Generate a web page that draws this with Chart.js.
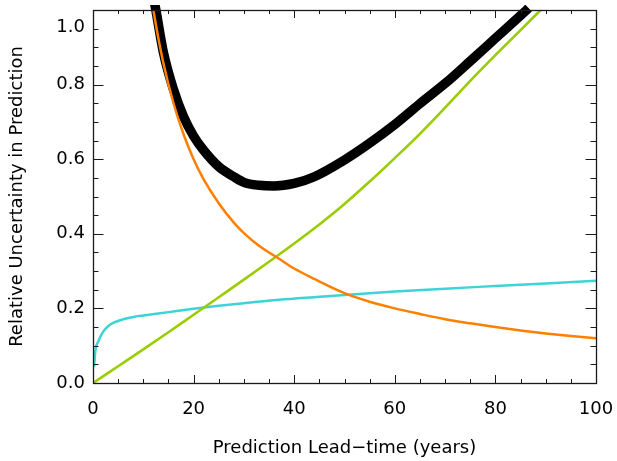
<!DOCTYPE html>
<html>
<head>
<meta charset="utf-8">
<script src="https://cdn.jsdelivr.net/npm/chart.js@4/dist/chart.umd.min.js"></script>
<style>
  html, body { margin: 0; padding: 0; background: #fff; }
  #wrap { width: 617px; height: 461px; }
</style>
</head>
<body>
<div id="wrap"><canvas id="c" width="617" height="461"></canvas></div>
<script>
// ---- data ----
const xTickLabels = ['0', '20', '40', '60', '80', '100'];
const yTickLabels = ['0.0', '0.2', '0.4', '0.6', '0.8', '1.0'];

const totalX = [11.8, 12.5, 14, 16, 18, 20, 22, 25, 28, 30, 33, 36, 40, 44, 50, 55, 60, 65, 70, 75, 80, 85, 86.6];
const totalY = [1.05, 1.0, 0.886, 0.787, 0.714, 0.662, 0.624, 0.58, 0.553, 0.538, 0.53, 0.528, 0.535, 0.553, 0.598, 0.643, 0.693, 0.749, 0.803, 0.863, 0.924, 0.985, 1.005];

const orangeX = [11, 12, 14, 16, 18, 20, 22, 25, 28, 30, 33, 37, 40, 44, 50, 55, 60, 65, 70, 75, 80, 85, 90, 95, 100];
const orangeY = [1.09, 1.0, 0.857, 0.75, 0.667, 0.6, 0.546, 0.482, 0.43, 0.402, 0.368, 0.333, 0.307, 0.279, 0.241, 0.218, 0.2, 0.185, 0.171, 0.16, 0.15, 0.141, 0.133, 0.126, 0.12];

const greenX = [0, 5, 10, 15, 20, 25, 30, 35, 40, 45, 50, 55, 60, 65, 70, 75, 80, 85, 89];
const greenY = [0, 0.045, 0.09, 0.136, 0.183, 0.23, 0.277, 0.325, 0.374, 0.425, 0.48, 0.54, 0.603, 0.668, 0.738, 0.81, 0.879, 0.946, 1.0];

const cyanX = [0.2, 0.5, 1, 2, 3, 4, 6, 8, 10, 15, 20, 25, 30, 37, 45, 50, 60, 70, 80, 90, 100];
const cyanY = [0.043, 0.09, 0.11, 0.137, 0.152, 0.161, 0.171, 0.177, 0.181, 0.19, 0.199, 0.207, 0.214, 0.223, 0.231, 0.236, 0.245, 0.253, 0.26, 0.267, 0.274];

const xAxisTitle = 'Prediction Lead\u2212time (years)';
const yAxisTitle = 'Relative Uncertainty in Prediction';

function pts(xs, ys) { return xs.map((v, i) => ({ x: v, y: ys[i] })); }

const FONT = 'DejaVu Sans';

function noPad(s) { s.paddingTop = 0; s.paddingBottom = 0; s.paddingLeft = 0; s.paddingRight = 0; }

const frameTicks = {
  id: 'frameTicks',
  afterDatasetsDraw(chart) {
    const { ctx, chartArea: a, scales: { x, y } } = chart;
    ctx.save();
    ctx.strokeStyle = '#1a1a1a';
    ctx.lineWidth = 1;
    ctx.beginPath();
    for (let v = 0; v <= 100; v += 5) {
      const p = Math.round(x.getPixelForValue(v)) + 0.5;
      const L = (v % 20 === 0) ? 8 : 4;
      ctx.moveTo(p, a.bottom); ctx.lineTo(p, a.bottom - L);
      ctx.moveTo(p, a.top); ctx.lineTo(p, a.top + L);
    }
    for (let k = 0; k <= 20; k++) {
      const v = k * 0.05;
      const p = Math.round(y.getPixelForValue(v)) + 0.5;
      const L = (k % 4 === 0) ? 10.5 : 5.5;
      ctx.moveTo(a.left, p); ctx.lineTo(a.left + L, p);
      ctx.moveTo(a.right, p); ctx.lineTo(a.right - L, p);
    }
    ctx.stroke();
    ctx.lineWidth = 1.3;
    ctx.strokeRect(Math.round(a.left) + 0.5, Math.round(a.top) + 0.5,
                   Math.round(a.right - a.left), Math.round(a.bottom - a.top));
    ctx.restore();
  }
};

new Chart(document.getElementById('c'), {
  type: 'scatter',
  data: {
    datasets: [
      { data: pts(orangeX, orangeY), borderColor: '#FF7F00', borderWidth: 2.5, clip: 0 },
      { data: pts(greenX, greenY), borderColor: '#9ACD00', borderWidth: 2.6, clip: 0 },
      { data: pts(cyanX, cyanY), borderColor: '#3ED3D6', borderWidth: 2.5, clip: 0 },
      { data: pts(totalX, totalY), borderColor: '#000000', borderWidth: 9.5, borderCapStyle: 'butt', clip: 5 }
    ].map(d => Object.assign({
      showLine: true, pointRadius: 0, pointHoverRadius: 0,
      cubicInterpolationMode: 'monotone', fill: false, borderJoinStyle: 'round'
    }, d))
  },
  options: {
    responsive: false,
    animation: false,
    events: [],
    layout: { padding: { left: 0, right: 21, top: 10, bottom: 0 } },
    plugins: { legend: { display: false }, tooltip: { enabled: false } },
    scales: {
      x: {
        type: 'linear', min: 0, max: 100,
        afterFit: s => { s.height = 78; noPad(s); },
        grid: { display: false, drawTicks: false },
        border: { display: false },
        ticks: {
          stepSize: 20, padding: 16, color: '#000', maxRotation: 0, autoSkip: false,
          font: { family: FONT, size: 18 },
          callback: (v, i) => xTickLabels[i]
        },
        title: {
          display: true, text: xAxisTitle, color: '#000',
          font: { family: FONT, size: 18 }, padding: { top: 0, bottom: 2 }
        }
      },
      y: {
        type: 'linear', min: 0, max: 1.0,
        afterFit: s => { s.width = 93; noPad(s); },
        grid: { display: false, drawTicks: false },
        border: { display: false },
        ticks: {
          stepSize: 0.2, padding: 8, color: '#000', autoSkip: false,
          font: { family: FONT, size: 18, lineHeight: '34px' },
          callback: (v, i) => (i === yTickLabels.length - 1 ? ['', yTickLabels[i]] : yTickLabels[i])
        },
        title: {
          display: true, text: yAxisTitle, color: '#000',
          font: { family: FONT, size: 18 }, padding: { top: 7, bottom: 0 }
        }
      }
    }
  },
  plugins: [frameTicks]
});
</script>
</body>
</html>
